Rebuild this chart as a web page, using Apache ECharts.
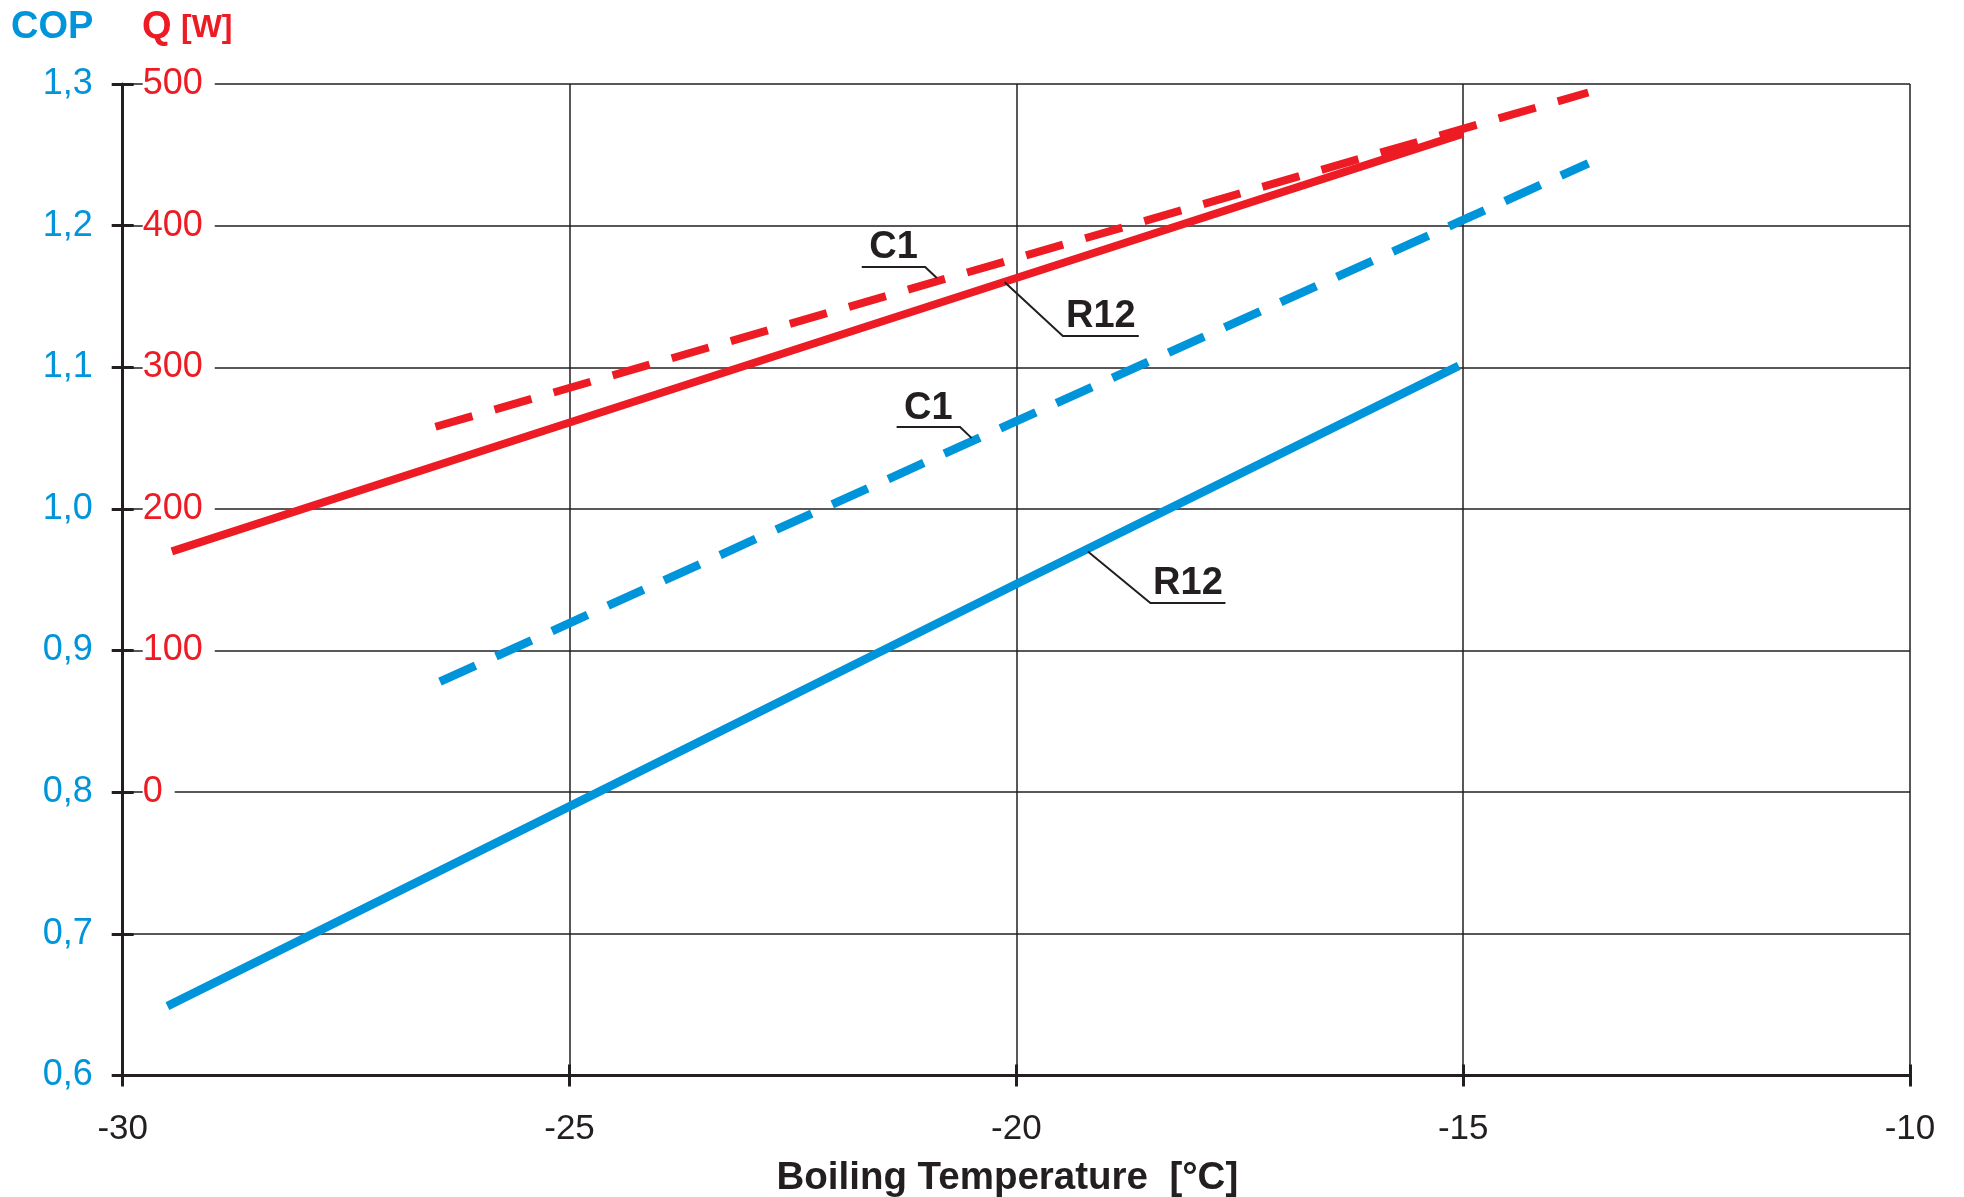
<!DOCTYPE html>
<html>
<head>
<meta charset="utf-8">
<script src="https://cdn.jsdelivr.net/npm/echarts@6/dist/echarts.min.js"></script>
<style>html,body{margin:0;padding:0;background:#fff}#c{width:1964px;height:1197px}</style>
</head>
<body>
<div id="c"></div>
<script>
// ---- data ----
const tempTicks = [-30, -25, -20, -15, -10];
const copTicks = [0.6, 0.7, 0.8, 0.9, 1.0, 1.1, 1.2, 1.3];
const qTicks = [0, 100, 200, 300, 400, 500];

const qR12Temp = [-29.45, -25, -20, -15.0];
const qR12 = [170, 261, 363, 465];
const qC1Temp = [-26.5, -20, -13.6];
const qC1 = [258, 377, 494];
const copR12Temp = [-29.5, -25, -20, -15.05];
const copR12 = [0.649, 0.790, 0.947, 1.101];
const copC1Temp = [-26.45, -20, -15, -13.6];
const copC1 = [0.878, 1.062, 1.204, 1.244];

// annotation anchors in data space (axis 0 = COP, 1 = Q)
const notes = [
  {text: 'C1', axis: 1, anchor: [-20.89, 363], elbow: [-21.02, 370.8], endX: -21.73},
  {text: 'R12', axis: 1, anchor: [-20.13, 360], elbow: [-19.48, 322.1], endX: -18.63},
  {text: 'C1', axis: 0, anchor: [-20.50, 1.050], elbow: [-20.63, 1.0578], endX: -21.34},
  {text: 'R12', axis: 0, anchor: [-19.20, 0.970], elbow: [-18.50, 0.9336], endX: -17.66}
];

const BLUE = '#0095da';
const RED = '#ed1c24';
const INK = '#231f20';
const FONT = "'Liberation Sans', Arial, Helvetica, sans-serif";

function zip(xs, ys) { return xs.map((x, i) => [x, ys[i]]); }

const chart = echarts.init(document.getElementById('c'), null, {renderer: 'canvas'});

const option = {
  animation: false,
  backgroundColor: '#fff',
  textStyle: {fontFamily: FONT},
  grid: {left: 122.7, right: 54, top: 84, bottom: 121.5, containLabel: false, outerBoundsMode: 'none'},
  xAxis: [
    {
      type: 'value', min: tempTicks[0], max: tempTicks[tempTicks.length - 1], interval: 5,
      position: 'bottom',
      axisLine: {show: true, onZero: false, lineStyle: {color: INK, width: 3}},
      axisTick: {show: true, inside: false, length: 11, lineStyle: {color: INK, width: 3}},
      axisLabel: {show: true, color: INK, fontSize: 35, fontFamily: FONT, margin: 36,
        formatter: v => tempTicks.includes(v) ? String(v) : ''},
      splitLine: {show: true, lineStyle: {color: INK, width: 1.5}},
      name: 'Boiling Temperature  [°C]', nameLocation: 'middle', nameGap: 83,
      nameTextStyle: {color: INK, fontSize: 38.5, fontWeight: 'bold', fontFamily: FONT,
        align: 'center', padding: [0, 18, 0, 0]}
    },
    {
      type: 'value', min: tempTicks[0], max: tempTicks[tempTicks.length - 1], interval: 5,
      position: 'bottom',
      axisLine: {show: false, onZero: false},
      axisTick: {show: true, inside: true, length: 11, lineStyle: {color: INK, width: 3}},
      axisLabel: {show: false},
      splitLine: {show: false}
    }
  ],
  yAxis: [
    {
      type: 'value', min: copTicks[0], max: copTicks[copTicks.length - 1], interval: 0.1,
      position: 'left',
      axisLine: {show: true, onZero: false, lineStyle: {color: INK, width: 3}},
      axisTick: {show: true, inside: false, length: 11, lineStyle: {color: INK, width: 3}},
      axisLabel: {show: true, color: BLUE, fontSize: 36, fontFamily: FONT, margin: 30,
        formatter: v => v.toFixed(1).replace('.', ',')},
      splitLine: {show: true, lineStyle: {color: INK, width: 1.5}}
    },
    {
      type: 'value', min: -200, max: qTicks[qTicks.length - 1], interval: 100,
      position: 'left', z: 1,
      axisLine: {show: false, onZero: false},
      axisTick: {show: true, inside: true, length: 11, lineStyle: {color: INK, width: 3}},
      axisLabel: {show: true, inside: true, margin: 20,
        formatter: v => (qTicks.includes(Math.round(v)) ? '{w|' + Math.round(v) + '}' : ''),
        rich: {w: {color: RED, fontSize: 36, fontFamily: FONT, backgroundColor: '#fff',
          padding: [3, 12, 3, 0]}}},
      splitLine: {show: false}
    }
  ],
  series: [
    {type: 'line', name: 'Q R12', xAxisIndex: 0, yAxisIndex: 1, data: zip(qR12Temp, qR12),
      showSymbol: false, symbol: 'none', z: 3,
      lineStyle: {color: RED, width: 8, cap: 'butt'}},
    {type: 'line', name: 'Q C1', xAxisIndex: 0, yAxisIndex: 1, data: zip(qC1Temp, qC1),
      showSymbol: false, symbol: 'none', z: 3,
      lineStyle: {color: RED, width: 8, type: [38.5, 23], cap: 'butt'}},
    {type: 'line', name: 'COP R12', xAxisIndex: 0, yAxisIndex: 0, data: zip(copR12Temp, copR12),
      showSymbol: false, symbol: 'none', z: 3,
      lineStyle: {color: BLUE, width: 8.5, cap: 'butt'}},
    {type: 'line', name: 'COP C1', xAxisIndex: 0, yAxisIndex: 0, data: zip(copC1Temp, copC1),
      showSymbol: false, symbol: 'none', z: 3,
      lineStyle: {color: BLUE, width: 8.5, type: [39, 22.5], cap: 'butt'}}
  ]
};

chart.setOption(option);

// header texts and annotation graphics (positions converted from data space)
const graphics = [
  {type: 'text', left: 11, top: 9, z: 10,
    style: {text: 'COP', fill: BLUE, font: "bold 38px " + FONT}},
  {type: 'text', left: 142, top: 9, z: 10,
    style: {text: 'Q', fill: RED, font: "bold 38px " + FONT}},
  {type: 'text', left: 181, top: 12, z: 10,
    style: {text: '[W]', fill: RED, font: "bold 32px " + FONT}}
];

notes.forEach(n => {
  const finder = {xAxisIndex: 0, yAxisIndex: n.axis};
  const a = chart.convertToPixel(finder, n.anchor);
  const e = chart.convertToPixel(finder, n.elbow);
  const f = chart.convertToPixel(finder, [n.endX, n.elbow[1]]);
  graphics.push({type: 'polyline', z: 10, silent: true,
    shape: {points: [a, e, f]},
    style: {stroke: INK, lineWidth: 2, fill: null}});
  graphics.push({type: 'text', z: 10, silent: true,
    x: (e[0] + f[0]) / 2, y: e[1] - 19,
    style: {text: n.text, fill: INK, font: "bold 38px " + FONT, align: 'center', verticalAlign: 'middle'}});
});

chart.setOption({graphic: graphics});
</script>
</body>
</html>
